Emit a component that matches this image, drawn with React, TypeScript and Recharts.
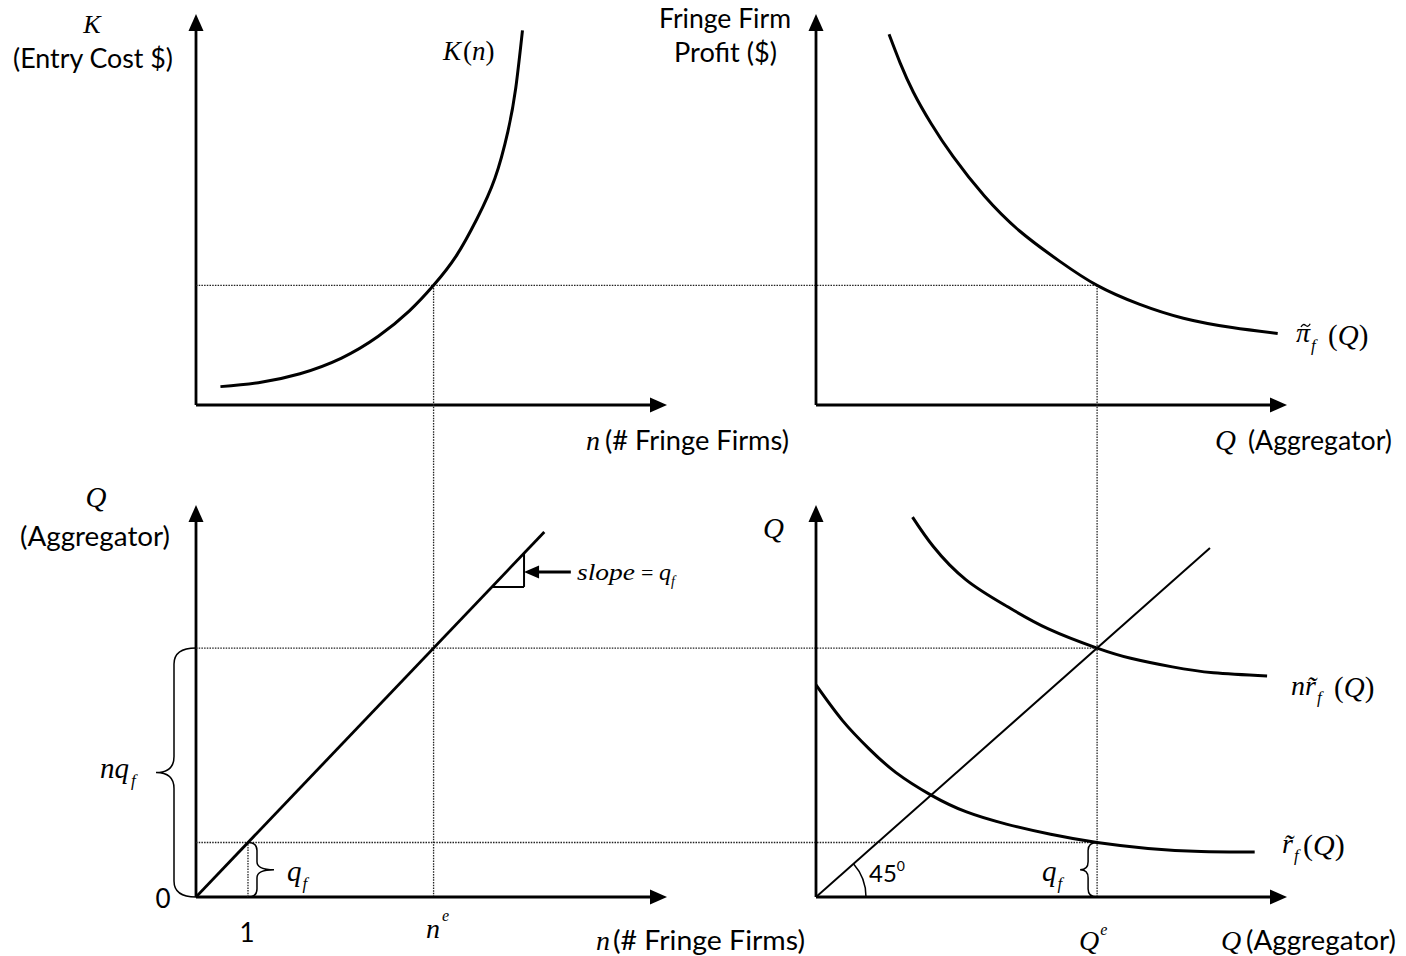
import React from "react"
import { ComposedChart, Line, XAxis, YAxis, ReferenceLine, ReferenceDot } from "recharts"

// K(n), entry cost curve (top left)
const costN = [0.47, 1.2, 2.0, 2.8, 3.5, 4.1, 4.57, 5.0, 5.4, 5.75, 6.0, 6.15, 6.28]
const costK = [0.47, 0.57, 0.8, 1.2, 1.75, 2.4, 3.06, 3.8, 4.75, 5.8, 7.0, 8.1, 9.58]

// fringe firm profit (top right)
const profitQ = [1.65, 1.9, 2.2, 2.6, 3.1, 3.8, 4.6, 5.5, 6.35, 7.3, 8.3, 9.4, 10.43]
const profitV = [9.48, 8.75, 8.0, 7.2, 6.35, 5.35, 4.45, 3.68, 3.06, 2.58, 2.22, 1.98, 1.83]

// aggregator Q = n * q_f (bottom left)
const aggN = [0, 6.7]
const aggQ = [0, 9.31]

// bottom right: 45 degree line, n*r_f(Q), r_f(Q)
const diagQ = [0, 8.9]
const nrQ = [2.18, 2.65, 3.39, 4.32, 5.25, 6.35, 7.11, 8.05, 8.98, 10.19]
const nrV = [9.69, 8.94, 8.09, 7.41, 6.84, 6.35, 6.09, 5.87, 5.72, 5.64]
const rQ = [0, 0.6, 1.2, 1.8, 2.6, 3.4, 4.3, 5.3, 6.35, 7.5, 8.7, 9.91]
const rV = [5.41, 4.5, 3.78, 3.18, 2.6, 2.17, 1.86, 1.6, 1.39, 1.24, 1.16, 1.15]

// equilibrium values
const N_E = 4.57
const K_STAR = 3.06
const Q_E = 6.35
const Q_F = 1.39

// slope triangle + arrow on the aggregator line
const triN = [5.69, 6.31, 6.31]
const triQ = [7.91, 7.91, 8.77]
const arrowN = [7.21, 6.45]
const ARROW_Q = 8.29

// axis ranges
const N_MAX = 9.06
const QX_MAX = 10.64
const K_MAX = 10
const QY_MAX = 10

// page layout (pixel boxes of the four plots)
const W = 1406
const H = 956
const COL_L = [196, 667]
const COL_R = [816, 1287]
const ROW_T = [405, 14]
const ROW_B = [897, 505]

const toPx = (v: number, [a, b]: number[], max: number) => a + (v / max) * (b - a)
const toUnit = (p: number, [a, b]: number[], max: number) => ((p - a) / (b - a)) * max

// cross-panel positions for the dotted guide lines
const qeInLeft = toUnit(toPx(Q_E, COL_R, QX_MAX), COL_L, N_MAX)
const bottomInTop = toUnit(toPx(0, ROW_B, QY_MAX), ROW_T, K_MAX)

const pts = (xs: number[], ys: number[]) => xs.map((x, i) => ({ x, y: ys[i] }))

const MATH = '"Liberation Serif", "Times New Roman", serif'
const SANS = 'Lato, "Open Sans", sans-serif'

const dotted = { stroke: "#222", strokeWidth: 1.3, strokeDasharray: "1.5 1.2", ifOverflow: "visible" as const }

const arrowRight = (p: any) => <path d={`M${p.cx},${p.cy} l-17,-7.5 l0,15 z`} fill="#000" />
const arrowUp = (p: any) => <path d={`M${p.cx},${p.cy} l-7.5,17 l15,0 z`} fill="#000" />
const arrowLeft = (p: any) => <path d={`M${p.cx},${p.cy} l15,-6.5 l0,13 z`} fill="#000" />

// curly brace along a vertical segment, pointing left (dir=1) or right (dir=-1)
const brace = (dir: number, d1: number, d: number, r: number) => (p: any) => {
  const x = p.x1
  const top = Math.min(p.y1, p.y2)
  const bot = Math.max(p.y1, p.y2)
  const mid = (top + bot) / 2
  const bx = x - dir * d1
  const tx = x - dir * d
  const path = `M${x},${top} Q${bx},${top} ${bx},${top + r} L${bx},${mid - r} Q${bx},${mid} ${tx},${mid} Q${bx},${mid} ${bx},${mid + r} L${bx},${bot - r} Q${bx},${bot} ${x},${bot}`
  return <path d={path} fill="none" stroke="#000" strokeWidth={1.5} />
}

// 45 degree angle mark at the origin of the bottom right panel
const angleArc = (p: any) => {
  const R = 50
  const slope = ((ROW_B[0] - ROW_B[1]) / QY_MAX) / ((COL_R[1] - COL_R[0]) / QX_MAX)
  const ang = Math.atan(slope)
  const ex = p.cx + R * Math.cos(ang)
  const ey = p.cy - R * Math.sin(ang)
  return <path d={`M${p.cx + R},${p.cy} A${R},${R} 0 0 0 ${ex},${ey}`} fill="none" stroke="#000" strokeWidth={1.5} />
}

function axisMarks(xMax: number, yMax: number) {
  return [
    <ReferenceLine key="ax" segment={[{ x: 0, y: 0 }, { x: xMax * 0.98, y: 0 }]} stroke="#000" strokeWidth={2.8} ifOverflow="visible" />,
    <ReferenceLine key="ay" segment={[{ x: 0, y: 0 }, { x: 0, y: yMax * 0.98 }]} stroke="#000" strokeWidth={2.8} ifOverflow="visible" />,
    <ReferenceDot key="hx" x={xMax} y={0} r={1} shape={arrowRight} ifOverflow="visible" />,
    <ReferenceDot key="hy" x={0} y={yMax} r={1} shape={arrowUp} ifOverflow="visible" />,
  ]
}

function Panel({ col, row, xMax, yMax, children }: any) {
  return (
    <div style={{ position: "absolute", left: 0, top: 0 }}>
      <ComposedChart
        width={W}
        height={H}
        margin={{ left: col[0], right: W - col[1], top: row[1], bottom: H - row[0] }}
      >
        <XAxis type="number" dataKey="x" domain={[0, xMax]} hide allowDataOverflow />
        <YAxis type="number" dataKey="y" domain={[0, yMax]} hide allowDataOverflow />
        {axisMarks(xMax, yMax)}
        {children}
      </ComposedChart>
    </div>
  )
}

function curve(key: string, data: any[], width: number) {
  return (
    <Line
      key={key}
      data={data}
      dataKey="y"
      type="natural"
      stroke="#000"
      strokeWidth={width}
      dot={false}
      activeDot={false}
      isAnimationActive={false}
    />
  )
}

// italic math text, with upright parentheses
function M({ x, y, size = 28, anchor, children }: any) {
  return (
    <text x={x} y={y} fontFamily={MATH} fontStyle="italic" fontSize={size} textAnchor={anchor}>
      {children}
    </text>
  )
}
const Up = ({ children, dx }: any) => <tspan fontStyle="normal" dx={dx}>{children}</tspan>
const Sub = ({ children, dx = 1, dy = 8, size = 17 }: any) => (
  <tspan fontSize={size} dx={dx} dy={dy}>{children}</tspan>
)

function Labels() {
  const sans = { fontFamily: SANS, fontSize: 26, lengthAdjust: "spacingAndGlyphs" as const }
  return (
    <svg width={W} height={H} style={{ position: "absolute", left: 0, top: 0, pointerEvents: "none" }}>
      {/* top left */}
      <M x={92} y={33} size={26} anchor="middle">K</M>
      <text {...sans} x={13} y={68} textLength={160}>(Entry Cost $)</text>
      <M x={443} y={60} size={27}>K<Up dx={2}>(</Up>n<Up>)</Up></M>
      <M x={586} y={450}>n</M>
      <text {...sans} x={605} y={450} textLength={184}>(# Fringe Firms)</text>

      {/* top right */}
      <text {...sans} x={659} y={28} textLength={132}>Fringe Firm</text>
      <text {...sans} x={674} y={62} textLength={103}>Profit ($)</text>
      <M x={1296} y={342}>π<Sub dx={1} dy={9}>f</Sub></M>
      <path d="M1301,327 q2.2,-4 4.6,-1.6 t4.6,-1.6" fill="none" stroke="#000" strokeWidth={1.3} />
      <M x={1328} y={345} size={29}><Up>(</Up>Q<Up>)</Up></M>
      <M x={1215} y={450} size={29}>Q</M>
      <text {...sans} x={1248} y={450} textLength={144}>(Aggregator)</text>

      {/* bottom left */}
      <M x={96} y={507} size={29} anchor="middle">Q</M>
      <text {...sans} x={20} y={546} textLength={150}>(Aggregator)</text>
      <M x={100} y={778} size={29}>nq<Sub dx={2}>f</Sub></M>
      <M x={287} y={881} size={29}>q<Sub dx={1}>f</Sub></M>
      <text {...sans} x={163} y={908} textAnchor="middle">0</text>
      <text {...sans} x={247} y={942} textAnchor="middle">1</text>
      <M x={426} y={938}>n<Sub dx={2} dy={-17} size={16}>e</Sub></M>
      <M x={596} y={950}>n</M>
      <text {...sans} x={613} y={950} textLength={192}>(# Fringe Firms)</text>
      <text fontFamily={MATH} fontStyle="italic" fontSize={24} x={577} y={580} textLength={58} lengthAdjust="spacingAndGlyphs">slope</text>
      <text fontFamily={MATH} fontSize={22} x={641} y={580}>=</text>
      <M x={659} y={580} size={24}>q<Sub dx={0} dy={6} size={14}>f</Sub></M>

      {/* bottom right */}
      <M x={763} y={538} size={29}>Q</M>
      <M x={1291} y={695}>{"nr\u0303"}<Sub dx={1}>f</Sub></M>
      <M x={1334} y={697} size={29}><Up>(</Up>Q<Up>)</Up></M>
      <M x={1282} y={853}>{"r\u0303"}<Sub dx={1}>f</Sub></M>
      <M x={1303} y={855} size={30}><Up>(</Up>Q<Up>)</Up></M>
      <text {...sans} fontSize={24} x={869} y={882}>45<tspan fontSize={14} dy={-11}>0</tspan></text>
      <M x={1042} y={881} size={29}>q<Sub dx={1}>f</Sub></M>
      <M x={1079} y={950}>Q<Sub dx={1} dy={-15} size={16}>e</Sub></M>
      <M x={1221} y={950}>Q</M>
      <text {...sans} x={1246} y={950} textLength={150}>(Aggregator)</text>
    </svg>
  )
}

export default function App() {
  return (
    <div style={{ position: "absolute", left: 0, top: 0, width: W, height: H, background: "#fff" }}>
      {/* top left: K(n) */}
      <Panel col={COL_L} row={ROW_T} xMax={N_MAX} yMax={K_MAX}>
        <ReferenceLine segment={[{ x: 0, y: K_STAR }, { x: qeInLeft, y: K_STAR }]} {...dotted} />
        <ReferenceLine segment={[{ x: N_E, y: K_STAR }, { x: N_E, y: bottomInTop }]} {...dotted} />
        {curve("k", pts(costN, costK), 3)}
      </Panel>

      {/* top right: profit */}
      <Panel col={COL_R} row={ROW_T} xMax={QX_MAX} yMax={K_MAX}>
        <ReferenceLine segment={[{ x: Q_E, y: K_STAR }, { x: Q_E, y: bottomInTop }]} {...dotted} />
        {curve("pi", pts(profitQ, profitV), 3)}
      </Panel>

      {/* bottom left: aggregator line */}
      <Panel col={COL_L} row={ROW_B} xMax={N_MAX} yMax={QY_MAX}>
        <ReferenceLine segment={[{ x: 0, y: Q_E }, { x: qeInLeft, y: Q_E }]} {...dotted} />
        <ReferenceLine segment={[{ x: 0, y: Q_F }, { x: qeInLeft, y: Q_F }]} {...dotted} />
        <ReferenceLine segment={[{ x: 1, y: 0 }, { x: 1, y: Q_F }]} {...dotted} />
        <ReferenceLine segment={[{ x: 0, y: 0 }, { x: 0, y: Q_E }]} ifOverflow="visible" shape={brace(1, 22, 40, 16)} />
        <ReferenceLine segment={[{ x: 1, y: 0 }, { x: 1, y: Q_F }]} ifOverflow="visible" shape={brace(-1, 9, 26, 8)} />
        <ReferenceLine segment={[{ x: triN[0], y: triQ[0] }, { x: triN[1], y: triQ[1] }]} stroke="#000" strokeWidth={2} ifOverflow="visible" />
        <ReferenceLine segment={[{ x: triN[1], y: triQ[1] }, { x: triN[2], y: triQ[2] }]} stroke="#000" strokeWidth={2} ifOverflow="visible" />
        <ReferenceLine segment={[{ x: arrowN[0], y: ARROW_Q }, { x: arrowN[1], y: ARROW_Q }]} stroke="#000" strokeWidth={3} ifOverflow="visible" />
        <ReferenceDot x={triN[1]} y={ARROW_Q} r={1} shape={arrowLeft} ifOverflow="visible" />
        {curve("agg", pts(aggN, aggQ), 2.8)}
      </Panel>

      {/* bottom right: revenue curves and 45 degree line */}
      <Panel col={COL_R} row={ROW_B} xMax={QX_MAX} yMax={QY_MAX}>
        <ReferenceLine segment={[{ x: Q_E, y: 0 }, { x: Q_E, y: Q_F }]} ifOverflow="visible" shape={brace(1, 9, 17, 8)} />
        <ReferenceDot x={0} y={0} r={1} shape={angleArc} ifOverflow="visible" />
        {curve("diag", pts(diagQ, diagQ), 2)}
        {curve("nr", pts(nrQ, nrV), 3)}
        {curve("r", pts(rQ, rV), 3)}
      </Panel>

      <Labels />
    </div>
  )
}
